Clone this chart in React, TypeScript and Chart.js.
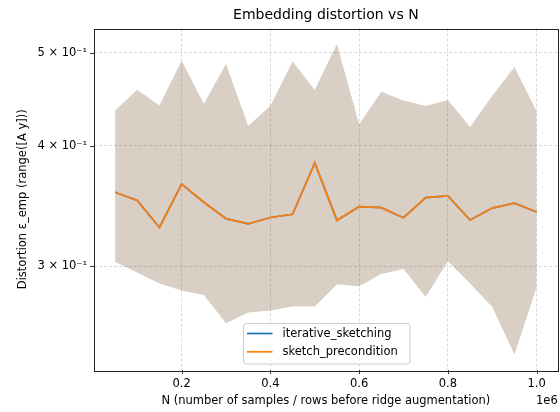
import React, { useEffect, useRef } from "react";
import { Chart, registerables } from "chart.js";

Chart.register(...registerables);

const N = [
  50000, 100000, 150000, 200000, 250000, 300000, 350000, 400000, 450000, 500000,
  550000, 600000, 650000, 700000, 750000, 800000, 850000, 900000, 950000, 1000000,
];
const meanIterative = [
  0.358, 0.351, 0.329, 0.365, 0.3495, 0.336, 0.332, 0.337, 0.3396, 0.384,
  0.3347, 0.3458, 0.345, 0.3368, 0.3534, 0.3548, 0.335, 0.3447, 0.3487, 0.3415,
];
const meanPrecondition = [
  0.358, 0.351, 0.329, 0.365, 0.3495, 0.336, 0.332, 0.337, 0.3396, 0.384,
  0.3347, 0.3458, 0.345, 0.3368, 0.3534, 0.3548, 0.335, 0.3447, 0.3487, 0.3415,
];
const bandUpper = [
  0.4353, 0.4575, 0.4406, 0.4904, 0.4424, 0.4866, 0.4196, 0.4403, 0.4896, 0.4575,
  0.5104, 0.4213, 0.4553, 0.4459, 0.44, 0.4464, 0.4185, 0.4509, 0.4831, 0.4346,
];
const bandLower = [
  0.303, 0.2954, 0.2877, 0.2829, 0.2799, 0.2616, 0.2684, 0.2697, 0.2723, 0.2723,
  0.2872, 0.2859, 0.2944, 0.298, 0.2786, 0.3035, 0.2877, 0.272, 0.2428, 0.2854,
];
const seriesNames = ["iterative_sketching", "sketch_precondition"];
const seriesColors = ["#1f77b4", "#ff7f0e"];
const yTickValues = [0.3, 0.4, 0.5];
const xTickValues = [200000, 400000, 600000, 800000, 1000000];
const titleText = "Embedding distortion vs N";
const xLabelText = "N (number of samples / rows before ridge augmentation)";
const yLabelText = "Distortion ε_emp (range([A y]))";
const offsetText = "1e6";

const FONT = "'DejaVu Sans', sans-serif";

function pts(vals: number[]) {
  return N.map((n, i) => ({ x: n, y: vals[i] }));
}

export default function App() {
  const ref = useRef<HTMLCanvasElement | null>(null);
  useEffect(() => {
    document.body.style.margin = "0";
    const canvas = ref.current!;
    const xMinD = Math.min(...N), xMaxD = Math.max(...N);
    const xPad = (xMaxD - xMinD) * 0.05;
    const all = [...bandUpper, ...bandLower, ...meanIterative, ...meanPrecondition];
    const lmin = Math.log10(Math.min(...all)), lmax = Math.log10(Math.max(...all));
    const lpad = (lmax - lmin) * 0.05;

    const extras = {
      id: "extras",
      afterDraw(chart: any) {
        const ctx = chart.ctx as CanvasRenderingContext2D;
        const a = chart.chartArea;
        const cx = (a.left + a.right) / 2;
        ctx.save();
        // tick marks
        ctx.strokeStyle = "#000";
        ctx.lineWidth = 0.8;
        const xs = chart.scales.x, ys = chart.scales.y;
        ctx.beginPath();
        for (const v of xTickValues) {
          const px = Math.round(xs.getPixelForValue(v)) + 0.5;
          ctx.moveTo(px, a.bottom);
          ctx.lineTo(px, a.bottom + 4);
        }
        for (const v of yTickValues) {
          const py = Math.round(ys.getPixelForValue(v)) + 0.5;
          ctx.moveTo(a.left, py);
          ctx.lineTo(a.left - 4, py);
        }
        ctx.stroke();
        // frame
        ctx.strokeStyle = "#222";
        ctx.lineWidth = 1;
        ctx.strokeRect(Math.round(a.left) + 0.5, Math.round(a.top) + 0.5,
          Math.round(a.right - a.left), Math.round(a.bottom - a.top));
        // title
        ctx.fillStyle = "#000";
        ctx.font = `14px ${FONT}`;
        ctx.textAlign = "center";
        ctx.textBaseline = "middle";
        ctx.fillText(titleText, cx, 15.5);
        // x label
        ctx.font = `11.5px ${FONT}`;
        ctx.fillText(xLabelText, cx, 401.5);
        // offset text
        ctx.textAlign = "right";
        ctx.fillText(offsetText, a.right, 401.5);
        // y label
        ctx.save();
        ctx.translate(23, (a.top + a.bottom) / 2);
        ctx.rotate(-Math.PI / 2);
        ctx.textAlign = "center";
        ctx.fillText(yLabelText, 0, 0);
        ctx.restore();
        // legend
        const lx = 243.5, ly = 323.5, lw = 166.5, lh = 40.5;
        ctx.beginPath();
        ctx.roundRect(lx, ly, lw, lh, 3);
        ctx.fillStyle = "rgba(255,255,255,0.8)";
        ctx.fill();
        ctx.strokeStyle = "#cccccc";
        ctx.lineWidth = 1;
        ctx.stroke();
        ctx.lineWidth = 1.75;
        ctx.textAlign = "left";
        ctx.font = `11.5px ${FONT}`;
        seriesNames.forEach((name, i) => {
          const y = 333.5 + i * 18.3;
          ctx.strokeStyle = seriesColors[i];
          ctx.beginPath();
          ctx.moveTo(247, y);
          ctx.lineTo(272.5, y);
          ctx.stroke();
          ctx.fillStyle = "#000";
          ctx.fillText(name, 282.5, y + 0.5);
        });
        ctx.restore();
      },
    };

    const chart = new Chart(canvas, {
      type: "line",
      data: {
        datasets: [
          {
            label: seriesNames[0],
            data: pts(meanIterative),
            borderColor: seriesColors[0],
            borderWidth: 1.75,
            pointRadius: 0,
            fill: false,
            order: 1,
          },
          {
            label: seriesNames[1],
            data: pts(meanPrecondition),
            borderColor: seriesColors[1],
            borderWidth: 1.75,
            pointRadius: 0,
            fill: false,
            order: 0,
          },
          {
            label: "band_upper",
            data: pts(bandUpper),
            borderWidth: 0,
            borderColor: "rgba(0,0,0,0)",
            backgroundColor: "rgba(132,95,58,0.3)",
            pointRadius: 0,
            fill: "+1",
            order: 2,
          },
          {
            label: "band_lower",
            data: pts(bandLower),
            borderWidth: 0,
            borderColor: "rgba(0,0,0,0)",
            pointRadius: 0,
            fill: false,
            order: 3,
          },
        ],
      },
      options: {
        responsive: false,
        animation: false,
        events: [],
        layout: { padding: { top: 28.5, right: 2.3, left: 0, bottom: 0 } },
        plugins: {
          legend: { display: false },
          title: { display: false },
          tooltip: { enabled: false },
        },
        scales: {
          x: {
            type: "linear",
            min: xMinD - xPad,
            max: xMaxD + xPad,
            afterBuildTicks: (s: any) => {
              s.ticks = xTickValues.map((v) => ({ value: v }));
            },
            afterFit: (s: any) => {
              s.height = 42;
            },
            ticks: {
              callback: (v: any) => (Number(v) / 1e6).toFixed(1),
              font: { family: FONT, size: 11.5 },
              color: "#000",
              padding: 7,
              maxRotation: 0,
              autoSkip: false,
            },
            grid: {
              color: "rgba(170,170,170,0.6)",
              lineWidth: 0.8,
              drawTicks: false,
            },
            border: { display: false, dash: [3, 2] },
          },
          y: {
            type: "logarithmic",
            min: Math.pow(10, lmin - lpad),
            max: Math.pow(10, lmax + lpad),
            afterBuildTicks: (s: any) => {
              s.ticks = yTickValues.map((v) => ({ value: v }));
            },
            afterFit: (s: any) => {
              s.width = 94;
            },
            ticks: {
              callback: (v: any) => `${Math.round(Number(v) * 10)} × 10⁻¹`,
              font: { family: FONT, size: 11.5 },
              color: "#000",
              padding: 7,
              autoSkip: false,
            },
            grid: {
              color: "rgba(170,170,170,0.6)",
              lineWidth: 0.8,
              drawTicks: false,
            },
            border: { display: false, dash: [3, 2] },
          },
        },
      },
      plugins: [extras],
    } as any);
    return () => chart.destroy();
  }, []);
  return <canvas ref={ref} width={560} height={412} style={{ display: "block" }} />;
}
